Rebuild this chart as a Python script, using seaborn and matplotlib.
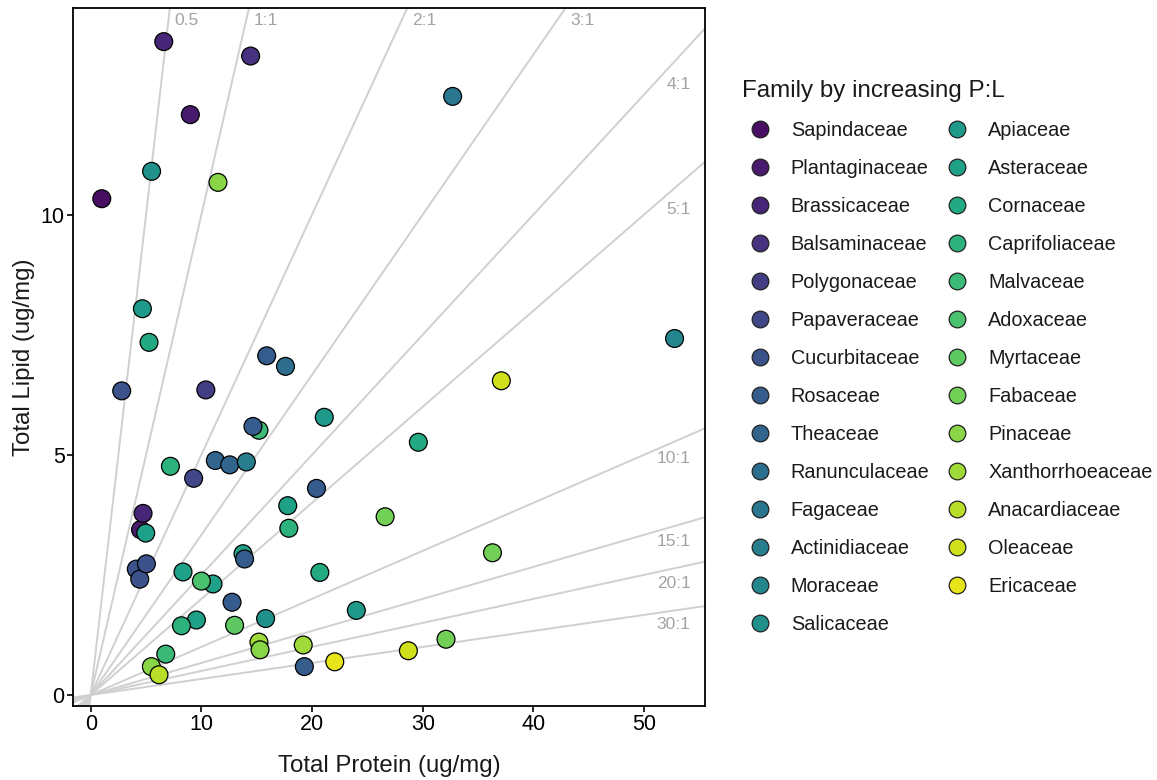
import numpy as np
import pandas as pd
import matplotlib
matplotlib.use("Agg")
import matplotlib.pyplot as plt
import seaborn as sns

families = ["Sapindaceae", "Plantaginaceae", "Brassicaceae", "Balsaminaceae", "Polygonaceae",
            "Papaveraceae", "Cucurbitaceae", "Rosaceae", "Theaceae", "Ranunculaceae",
            "Fagaceae", "Actinidiaceae", "Moraceae", "Salicaceae", "Apiaceae", "Asteraceae",
            "Cornaceae", "Caprifoliaceae", "Malvaceae", "Adoxaceae", "Myrtaceae", "Fabaceae",
            "Pinaceae", "Xanthorrhoeaceae", "Anacardiaceae", "Oleaceae", "Ericaceae"]

point_family = ["Sapindaceae", "Plantaginaceae", "Brassicaceae", "Balsaminaceae", "Plantaginaceae",
                "Brassicaceae", "Polygonaceae", "Papaveraceae",
                "Cucurbitaceae", "Cucurbitaceae", "Cucurbitaceae", "Cucurbitaceae",
                "Malvaceae", "Rosaceae", "Rosaceae", "Asteraceae", "Rosaceae", "Rosaceae", "Rosaceae", "Rosaceae",
                "Theaceae", "Theaceae", "Ranunculaceae", "Fagaceae", "Actinidiaceae", "Moraceae",
                "Salicaceae", "Apiaceae", "Apiaceae", "Asteraceae",
                "Asteraceae", "Asteraceae", "Asteraceae", "Apiaceae", "Asteraceae",
                "Cornaceae", "Cornaceae", "Cornaceae",
                "Caprifoliaceae", "Caprifoliaceae", "Salicaceae",
                "Adoxaceae", "Caprifoliaceae", "Myrtaceae",
                "Fabaceae", "Fabaceae", "Fabaceae", "Malvaceae",
                "Pinaceae", "Pinaceae", "Xanthorrhoeaceae", "Pinaceae",
                "Anacardiaceae", "Xanthorrhoeaceae", "Oleaceae", "Oleaceae", "Ericaceae"]

protein = [1.0, 9.0, 6.6, 14.45, 4.5,
           4.73, 10.4, 9.3,
           2.8, 4.12, 4.43, 5.03,
           15.2, 15.9, 14.66, 13.76, 13.9, 12.77, 20.4, 19.3,
           11.26, 12.56, 17.6, 32.7, 14.06, 52.75,
           5.5, 4.67, 21.1, 4.97,
           8.34, 11.05, 17.8, 24.0, 9.55,
           5.27, 20.7, 29.6,
           7.2, 17.9, 15.8,
           10.0, 8.2, 13.0,
           26.6, 36.3, 32.1, 6.78,
           11.5, 5.48, 15.2, 15.3,
           6.17, 19.2, 37.1, 28.7, 22.05]

lipid = [10.33, 12.08, 13.6, 13.3, 3.44,
         3.78, 6.35, 4.51,
         6.33, 2.62, 2.41, 2.73,
         5.51, 7.06, 5.59, 2.94, 2.83, 1.93, 4.3, 0.59,
         4.88, 4.79, 6.84, 12.46, 4.85, 7.42,
         10.9, 8.04, 5.78, 3.37,
         2.56, 2.31, 3.94, 1.76, 1.56,
         7.34, 2.55, 5.26,
         4.76, 3.47, 1.59,
         2.37, 1.44, 1.45,
         3.71, 2.96, 1.16, 0.85,
         10.67, 0.59, 1.1, 0.94,
         0.42, 1.04, 6.54, 0.92, 0.69]

ratios = [0.5, 1, 2, 3, 4, 5, 10, 15, 20, 30]
ratio_labels = ["0.5", "1:1", "2:1", "3:1", "4:1", "5:1", "10:1", "15:1", "20:1", "30:1"]

df = pd.DataFrame({"Protein": protein, "Lipid": lipid, "Family": point_family})

sns.set_theme(style="white")
plt.rcParams["font.family"] = ["Liberation Sans", "DejaVu Sans"]

fig = plt.figure(figsize=(11.57, 7.8), dpi=100)
ax = fig.add_axes([73 / 1157, 74 / 780, (705 - 73) / 1157, (772 - 74) / 780])

xmin, xmax = -1.6, 55.5
ymin, ymax = -0.23, 14.3
ax.set_xlim(xmin, xmax)
ax.set_ylim(ymin, ymax)

label_x = 54.2
for r, lab in zip(ratios, ratio_labels):
    slope = 1.0 / r
    ax.axline((0, 0), slope=slope, color="#d0d0d0", lw=1.4, zorder=1)
    y_at_right = slope * label_x
    if y_at_right > ymax:
        ax.text(ymax / slope + 0.4, ymax - 0.1, lab, color="#a3a3a3", fontsize=12.5,
                ha="left", va="top", zorder=2)
    else:
        ax.text(label_x, y_at_right - (0.27 + 2.3 * slope), lab, color="#a3a3a3",
                fontsize=12.5, ha="right", va="center", zorder=2)

palette = sns.color_palette("viridis", len(families))
sns.scatterplot(data=df, x="Protein", y="Lipid", hue="Family", hue_order=families,
                palette=palette, s=165, edgecolor="black", linewidth=0.9, ax=ax, zorder=3,
                legend=True)

ax.set_xticks([0, 10, 20, 30, 40, 50])
ax.set_yticks([0, 5, 10])
ax.set_xlabel("Total Protein (ug/mg)", fontsize=17.3, color="#1a1a1a", labelpad=14)
ax.set_ylabel("Total Lipid (ug/mg)", fontsize=17.3, color="#1a1a1a", labelpad=4)
ax.tick_params(axis="both", which="major", labelsize=15.5, colors="black", direction="out",
               length=4, width=1.2, bottom=True, left=True, pad=2)
for sp in ax.spines.values():
    sp.set_color("black")
    sp.set_linewidth(1.3)
ax.grid(False)

handles, labels = ax.get_legend_handles_labels()
ax.get_legend().remove()
for h in handles:
    try:
        h.set_markersize(12)
        h.set_markeredgecolor("#222222")
        h.set_markeredgewidth(0.9)
    except Exception:
        pass
leg = fig.legend(handles, labels, loc="upper left", bbox_to_anchor=(738 / 1157, 1 - 76 / 780),
                 ncol=2, frameon=False, title="Family by increasing P:L",
                 fontsize=14.3, title_fontsize=17.4, labelspacing=0.955, handlelength=1.8,
                 handletextpad=0.66, columnspacing=0.5, borderaxespad=0, borderpad=0.2,
                 alignment="left")
for t in leg.get_texts():
    t.set_color("#1a1a1a")
leg.get_title().set_color("#1a1a1a")

fig.savefig("out.png", dpi=100, facecolor="white")
